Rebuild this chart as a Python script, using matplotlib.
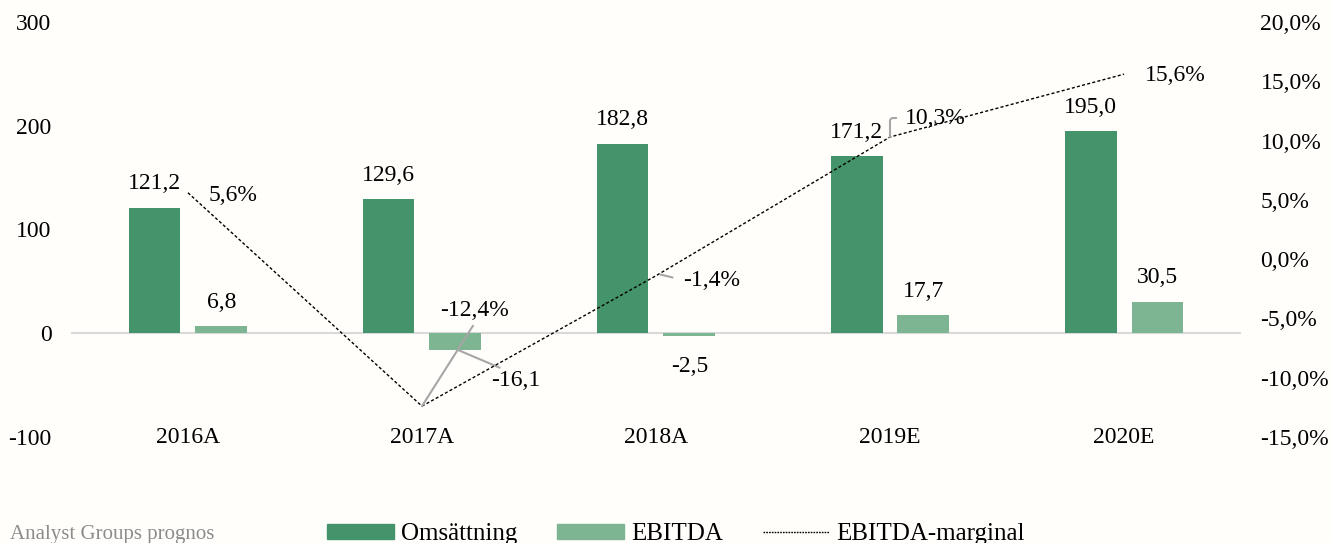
import numpy as np
import matplotlib
matplotlib.use("Agg")
import matplotlib.pyplot as plt
from matplotlib.patches import Patch
from matplotlib.lines import Line2D

# --- data ---
years = ["2016A", "2017A", "2018A", "2019E", "2020E"]
omsattning = [121.2, 129.6, 182.8, 171.2, 195.0]
ebitda = [6.8, -16.1, -2.5, 17.7, 30.5]
marginal = [0.056, -0.124, -0.014, 0.103, 0.156]

dark = "#45936a"
light = "#7db491"
bg = "#fffefb"

plt.rcParams["font.family"] = ["Liberation Serif", "DejaVu Serif"]
plt.rcParams["font.size"] = 17
plt.rcParams["axes.unicode_minus"] = False

fig = plt.figure(figsize=(13.31, 5.43), dpi=100, facecolor=bg)
ax = fig.add_axes([0.0533, 0.1952, 0.8791, 0.7643], facecolor=bg)
ax2 = ax.twinx()

x = np.arange(len(years))
w = 0.222
off = 0.143
ax.bar(x - off, omsattning, w, color=dark, zorder=2)
ax.bar(x + off, ebitda, w, color=light, zorder=2)
ax.axhline(0, color="#d9d9d9", lw=1.5, zorder=1)

ax.set_xlim(-0.5, 4.5)
ax.set_ylim(-100, 300)
ax.set_yticks([-100, 0, 100, 200, 300])
ax.set_xticks([])
ax.tick_params(axis="y", length=0, pad=14)

ax2.plot(x, marginal, color="black", lw=1, linestyle=(0, (2.2, 1.6)), zorder=3)
ax2.set_ylim(-0.15, 0.20)
rticks = np.arange(-0.15, 0.201, 0.05)
ax2.set_yticks(rticks)
ax2.set_yticklabels([f"{v*100:.1f}%".replace(".", ",") for v in rticks])
ax2.tick_params(axis="y", length=0, pad=14)

for a in (ax, ax2):
    for s in a.spines.values():
        s.set_visible(False)

# category labels sit on the bottom edge
for i, yr in enumerate(years):
    ax.text(i, -100, yr, ha="center", va="center")

def fmt(v):
    return f"{v:.1f}".replace(".", ",")

# bar labels
for i, v in enumerate(omsattning):
    ax.annotate(fmt(v), (i - off, v), xytext=(0, 17), textcoords="offset points",
                ha="center", va="center")
for i, v in enumerate(ebitda):
    if i == 1:
        continue
    dy = 17 if v >= 0 else -22
    ax.annotate(fmt(v), (i + off, v), xytext=(0, dy), textcoords="offset points",
                ha="center", va="center")

grey = "#a6a6a6"
ax.annotate(fmt(ebitda[1]), (1 + off + 0.015, -16.5), xytext=(1.402, -46),
            ha="center", va="center",
            arrowprops=dict(arrowstyle="-", color=grey, lw=1.5, relpos=(0.3, 1.0),
                            shrinkA=0, shrinkB=0))

# margin labels
pct = lambda v: f"{v*100:.1f}%".replace(".", ",")
ax2.text(0.192, 0.054, pct(marginal[0]), ha="center", va="center")
ax2.text(4.218, 0.155, pct(marginal[4]), ha="center", va="center")
ax2.annotate(pct(marginal[1]), (1, marginal[1]), xytext=(1.226, -0.043),
             ha="center", va="center",
             arrowprops=dict(arrowstyle="-", color=grey, lw=1.5, relpos=(0.52, 0.0),
                             shrinkA=2, shrinkB=0))
ax2.annotate(pct(marginal[2]), (2.02, marginal[2] + 0.001), xytext=(2.239, -0.0177),
             ha="center", va="center",
             arrowprops=dict(arrowstyle="-", color=grey, lw=1.5, relpos=(0.0, 0.5),
                             shrinkA=6, shrinkB=0))
ax2.annotate(pct(marginal[3]), (3.0, marginal[3]), xytext=(3.192, 0.119),
             ha="center", va="center",
             arrowprops=dict(arrowstyle="-", color=grey, lw=1.5, relpos=(0.0, 0.5),
                             shrinkA=4, shrinkB=0,
                             connectionstyle="angle,angleA=0,angleB=90,rad=3"))

# source + legend
fig.text(10 / 1331, 1 - 535 / 543, "Analyst Groups prognos", color="#8c8c8c",
         fontsize=15, ha="left", va="center")
handles = [Patch(color=dark), Patch(color=light),
           Line2D([], [], color="black", lw=1, linestyle=(0, (1.2, 0.8)))]
fig.legend(handles, ["Omsättning", "EBITDA", "EBITDA-marginal"], ncol=3,
           loc="center", bbox_to_anchor=(676 / 1331, 1 - 534 / 543), frameon=False,
           fontsize=18, handlelength=2.67, handleheight=0.55, handletextpad=0.27,
           columnspacing=1.6, borderaxespad=0, borderpad=0)

fig.savefig("out.png", dpi=100, facecolor=bg)
